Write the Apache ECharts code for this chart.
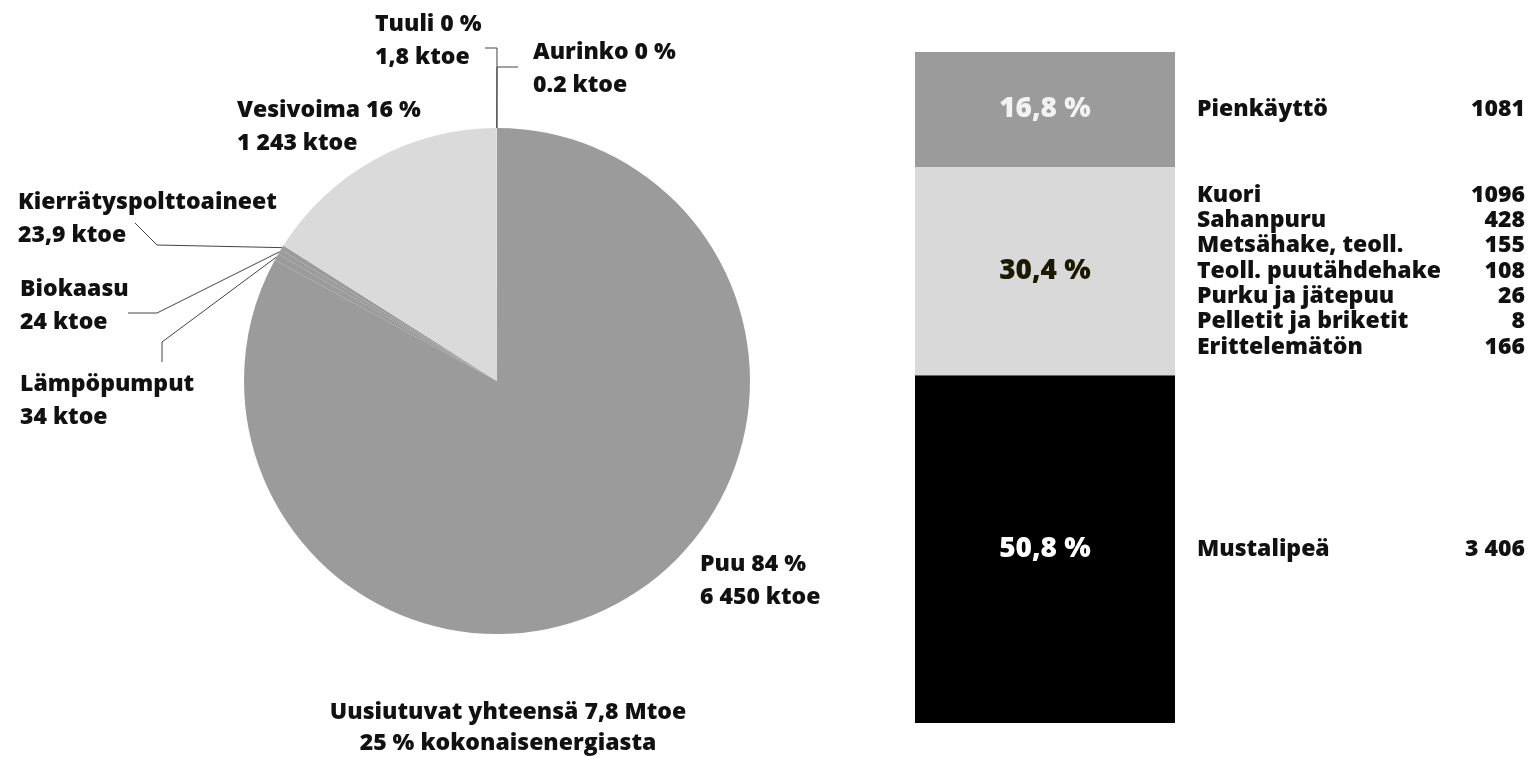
<!DOCTYPE html>
<html>
<head>
<meta charset="utf-8">
<script src="https://cdn.jsdelivr.net/npm/echarts@6/dist/echarts.min.js"></script>
<style>
  html, body { margin: 0; background: #fff; }
  #chart { width: 1536px; height: 757px; }
</style>
</head>
<body>
<div id="chart"></div>
<script>
// renewable sources, clockwise from 12 o'clock (ktoe)
const sources = ['Puu', 'Lämpöpumput', 'Biokaasu', 'Kierrätyspolttoaineet', 'Vesivoima', 'Tuuli', 'Aurinko'];
const sourceKtoe = [6450, 34, 24, 23.9, 1243, 1.8, 0.2];
const sourcePct = [84, null, null, null, 16, 0, 0];

// wood use, top block first: share of wood (%) and the ktoe breakdown
const woodShare = [16.8, 30.4, 50.8];
const woodItems = [
  ['Pienkäyttö'],
  ['Kuori', 'Sahanpuru', 'Metsähake, teoll.', 'Teoll. puutähdehake', 'Purku ja jätepuu', 'Pelletit ja briketit', 'Erittelemätön'],
  ['Mustalipeä']
];
const woodKtoe = [
  [1081],
  [1096, 428, 155, 108, 26, 8, 166],
  [3406]
];

const FONT = 'Open Sans';
const WEIGHT = 800;
const totalShare = woodShare.reduce((a, b) => a + b, 0);
const totalMtoe = sourceKtoe.reduce((a, b) => a + b, 0) / 1000;

// finnish style number: decimal comma, space as thousands separator
function fi(v, groupFrom) {
  let s = String(v).replace('.', ',');
  if (v >= groupFrom) s = s.replace(/\B(?=(\d{3})+(?!\d))/g, ' ');
  return s;
}

function pieText(i) {
  const v = sourceKtoe[i] < 1 ? String(sourceKtoe[i]) : fi(sourceKtoe[i], 1000);
  const head = sourcePct[i] == null ? sources[i] : sources[i] + ' ' + sourcePct[i] + ' %';
  return head + '\n' + v + ' ktoe';
}

const pieColors = ['#9b9b9b', '#9b9b9b', '#9b9b9b', '#9b9b9b', '#dadada', '#dadada', '#dadada'];

// where each pie label sits and how its leader line bends
const spots = [
  { x: 700, y: 548 },
  { x: 20, y: 368, bend: [[162, 342], [162, 362]] },
  { x: 20, y: 273, bend: [[157, 313], [128, 313]] },
  { x: 18, y: 186, bend: [[157, 245], [135, 223]] },
  { x: 237, y: 94 },
  { x: 375, y: 8, bend: [[497, 48], [485, 48]] },
  { x: 533, y: 36, bend: [[497, 67], [518, 67]] }
];

const chart = echarts.init(document.getElementById('chart'));

const series = [{
  type: 'pie',
  center: [497, 381],
  radius: 253,
  startAngle: 90,
  clockwise: true,
  avoidLabelOverlap: false,
  silent: true,
  animation: false,
  data: sources.map((name, i) => ({
    name: name,
    value: sourceKtoe[i],
    itemStyle: { color: pieColors[i], borderWidth: 0 },
    labelLine: { show: !!spots[i].bend }
  })),
  label: {
    show: true,
    formatter: p => pieText(p.dataIndex),
    fontFamily: FONT,
    fontWeight: WEIGHT,
    fontSize: 23,
    lineHeight: 33,
    color: '#111'
  },
  labelLine: { lineStyle: { color: '#444', width: 1 } },
  labelLayout: p => {
    const s = spots[p.dataIndex];
    const out = { x: s.x, y: s.y, align: 'left', verticalAlign: 'top' };
    if (s.bend && p.labelLinePoints) {
      out.labelLinePoints = [p.labelLinePoints[0]].concat(s.bend);
    }
    return out;
  }
}];

const blockColors = ['#9b9b9b', '#d9d9d9', '#000000'];
const shareColors = ['#f2f2f2', '#1a1a00', '#ffffff'];

// stacks grow from the bottom, so add the blocks bottom first
for (let i = woodShare.length - 1; i >= 0; i--) {
  const v = woodShare[i];
  series.push({
    type: 'bar',
    stack: 'wood',
    barWidth: 260,
    barGap: '-100%',
    silent: true,
    animation: false,
    data: [v],
    itemStyle: { color: blockColors[i] },
    label: {
      show: true,
      position: 'inside',
      formatter: fi(v, 1e9) + ' %',
      fontFamily: FONT,
      fontWeight: WEIGHT,
      fontSize: 28,
      color: shareColors[i]
    }
  });
  const lines = woodItems[i].map((n, j) => '{n|' + n + '}{v|' + fi(woodKtoe[i][j], 2000) + '}');
  series.push({
    type: 'bar',
    stack: 'list',
    barWidth: 260,
    barGap: '-100%',
    silent: true,
    animation: false,
    data: [v],
    itemStyle: { color: 'transparent' },
    label: {
      show: true,
      position: 'right',
      distance: 22,
      formatter: lines.join('\n'),
      rich: {
        n: { fontFamily: FONT, fontWeight: WEIGHT, fontSize: 23, lineHeight: 25.3, color: '#111', width: 250 },
        v: { fontFamily: FONT, fontWeight: WEIGHT, fontSize: 23, lineHeight: 25.3, color: '#111', width: 78, align: 'right' }
      }
    }
  });
}

chart.setOption({
  backgroundColor: '#ffffff',
  animation: false,
  title: {
    text: 'Uusiutuvat yhteensä ' + fi(Math.round(totalMtoe * 10) / 10, 1e9) + ' Mtoe\n25 % kokonaisenergiasta',
    left: 503,
    top: 692,
    textAlign: 'center',
    textStyle: { fontFamily: FONT, fontWeight: WEIGHT, fontSize: 23, lineHeight: 31, color: '#111' }
  },
  grid: { left: 915, top: 52, width: 260, height: 671 },
  xAxis: { type: 'category', data: ['puu'], show: false },
  yAxis: { type: 'value', min: 0, max: totalShare, show: false },
  series: series
});
</script>
</body>
</html>
